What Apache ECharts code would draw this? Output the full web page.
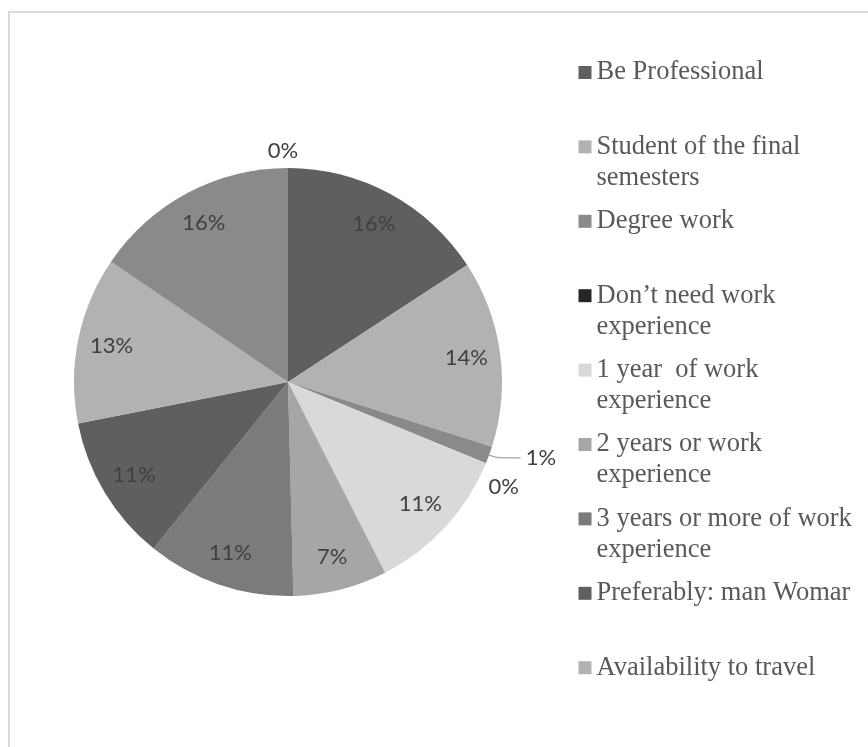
<!DOCTYPE html>
<html>
<head>
<meta charset="utf-8">
<title>Job offer requirements</title>
<script src="https://cdn.jsdelivr.net/npm/echarts@6/dist/echarts.min.js"></script>
<style>
  html, body { margin: 0; padding: 0; background: #ffffff; }
  #chart { width: 868px; height: 747px; }
</style>
</head>
<body>
<div id="chart"></div>
<script>
// Requirement categories, in drawing order (clockwise from 12 o'clock)
const categories = [
  'Be Professional',
  'Student of the final semesters',
  'Degree work',
  'Don’t need work experience',
  '1 year  of work experience',
  '2 years or work experience',
  '3 years or more of work experience',
  'Preferably: man Womar',
  'Availability to travel',
  'Other',
  'Not specified'
];

// Share of each requirement, in percent
const shares = [15.8, 14.1, 1.3, 0, 11.3, 7.1, 11.2, 11.1, 12.6, 15.5, 0];

// Entries listed in the legend, with their wrapped lines
const legendNames = categories.slice(0, 9);
const legendLines = [
  ['Be Professional'],
  ['Student of the final', 'semesters'],
  ['Degree work'],
  ['Don’t need work', 'experience'],
  ['1 year  of work', 'experience'],
  ['2 years or work', 'experience'],
  ['3 years or more of work', 'experience'],
  ['Preferably: man Womar'],
  ['Availability to travel']
];

const sliceColors = [
  '#5f5f5f', '#b2b2b2', '#8a8a8a', '#262626', '#d9d9d9', '#a6a6a6',
  '#7b7b7b', '#5f5f5f', '#b2b2b2', '#8a8a8a', '#333333'
];

const CENTER = [288, 382];
const RADIUS = 214;
const SMALL = 2; // slices below this share get their label outside

const labelFont = { fontFamily: 'Lato', fontSize: 22, color: '#404040' };
const pctText = p => Math.round(p.value) + '%';
const lastIndex = shares.length - 1;

const chart = echarts.init(document.getElementById('chart'), null, { renderer: 'canvas' });

const mainData = categories.map((name, i) => {
  const small = shares[i] < SMALL;
  const item = {
    name,
    value: shares[i],
    itemStyle: { color: sliceColors[i] },
    label: { show: small }
  };
  if (small && shares[i] > 0) {
    item.labelLine = {
      show: true, length: 8, length2: 24, smooth: 0.3,
      lineStyle: { color: '#a6a6a6', width: 1.2 }
    };
  } else if (small) {
    item.labelLine = { show: false, length: i === lastIndex ? 17 : 5, length2: 0 };
  }
  return item;
});

const ringData = categories.map((name, i) => ({
  name,
  value: shares[i],
  label: { show: shares[i] >= SMALL }
}));

const legendText = {};
legendNames.forEach((n, i) => {
  // a blank line on each side keeps the first line level with the swatch
  legendText[n] = '\n' + legendLines[i].join('\n') + (legendLines[i].length === 1 ? '\n' : '');
});

chart.setOption({
  animation: false,
  backgroundColor: '#ffffff',
  graphic: [{
    type: 'rect',
    silent: true,
    shape: { x: 9, y: 12, width: 900, height: 800 },
    style: { fill: 'none', stroke: '#d9d9d9', lineWidth: 2 }
  }],
  legend: {
    orient: 'vertical',
    left: 578.5,
    top: 26,
    padding: 0,
    itemGap: -18.6,
    itemWidth: 13,
    itemHeight: 13,
    icon: 'rect',
    selectedMode: false,
    data: legendNames,
    formatter: name => legendText[name],
    textStyle: {
      fontFamily: 'Liberation Serif',
      fontSize: 26.5,
      lineHeight: 31,
      color: '#595959'
    }
  },
  series: [
    {
      name: 'slices',
      type: 'pie',
      center: CENTER,
      radius: RADIUS,
      startAngle: 90,
      clockwise: true,
      avoidLabelOverlap: false,
      silent: true,
      itemStyle: { borderWidth: 0 },
      emphasis: { disabled: true },
      label: Object.assign({ position: 'outside', formatter: pctText, distanceToLabelLine: 5 }, labelFont),
      labelLine: { show: false },
      labelLayout: p => {
        if (shares[p.dataIndex] !== 0) return {};
        return p.dataIndex === lastIndex ? { align: 'center' } : { dx: -7, dy: 22 };
      },
      data: mainData
    },
    {
      name: 'labels',
      type: 'pie',
      center: CENTER,
      radius: [140, RADIUS],
      startAngle: 90,
      clockwise: true,
      avoidLabelOverlap: false,
      silent: true,
      itemStyle: { color: 'rgba(0,0,0,0)', borderWidth: 0 },
      emphasis: { disabled: true },
      label: Object.assign({ position: 'inside', formatter: pctText }, labelFont),
      labelLine: { show: false },
      data: ringData
    }
  ]
});
</script>
</body>
</html>
